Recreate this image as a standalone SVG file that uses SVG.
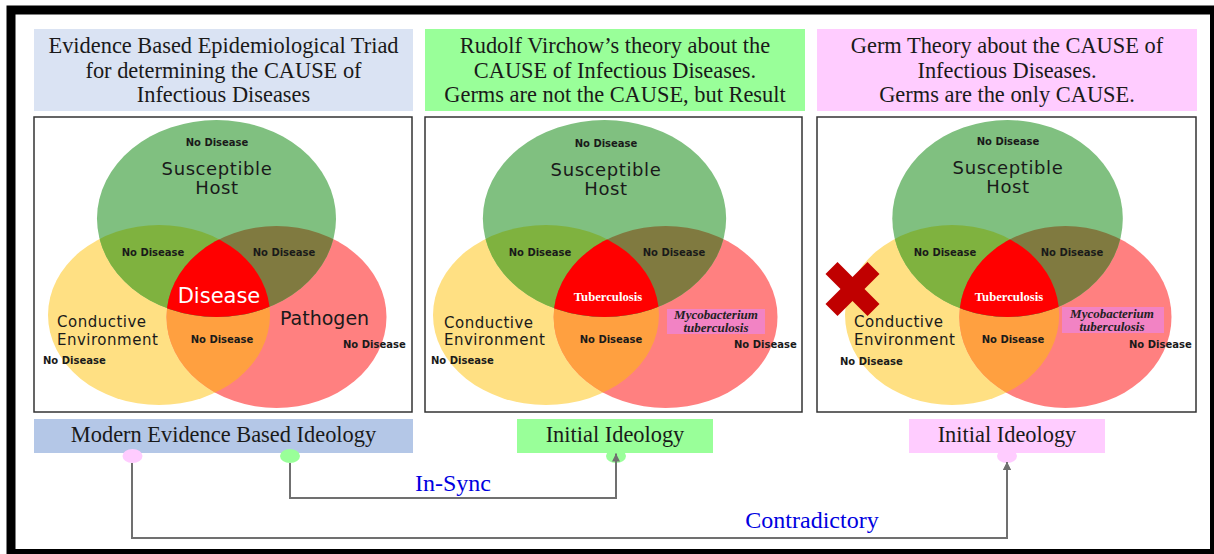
<svg xmlns="http://www.w3.org/2000/svg" xmlns:xlink="http://www.w3.org/1999/xlink" width="1214" height="554" viewBox="0 0 1214 554">
<style>
.ttl{font-family:"Liberation Serif",serif;font-size:22.4px;fill:#1a1a1a;text-anchor:middle}
.nd{font-family:"DejaVu Sans",sans-serif;font-weight:bold;font-size:10px;fill:#1a1a1a;text-anchor:middle}
.ndl{font-family:"DejaVu Sans",sans-serif;font-weight:bold;font-size:10px;fill:#1a1a1a}
.lab{font-family:"DejaVu Sans",sans-serif;font-size:19px;fill:#1a1a1a}
.sh{font-family:"DejaVu Sans",sans-serif;font-size:18px;letter-spacing:0.6px;fill:#1a1a1a;text-anchor:middle}
.env{font-family:"DejaVu Sans",sans-serif;font-size:15px;letter-spacing:0.5px;fill:#1a1a1a}
.tb{font-family:"Liberation Serif",serif;font-weight:bold;font-size:12.7px;fill:#ffffff;text-anchor:middle}
.my{font-family:"Liberation Serif",serif;font-weight:bold;font-style:italic;font-size:13px;fill:#222;text-anchor:middle}
.panel{fill:#ffffff;stroke:#333;stroke-width:1.5}
.conn{fill:none;stroke:#707070;stroke-width:2}
.clab{font-family:"Liberation Serif",serif;font-size:24px;fill:#0000e0;text-anchor:middle}
</style>
<defs>
<ellipse id="eG" cx="216.5" cy="218.5" rx="119.5" ry="98.5"/>
<ellipse id="eY" cx="159" cy="315" rx="111" ry="90"/>
<ellipse id="eR" cx="276.5" cy="317" rx="110" ry="91"/>
<clipPath id="cY"><ellipse cx="159" cy="315" rx="111" ry="90"/></clipPath>
<clipPath id="cR"><ellipse cx="276.5" cy="317" rx="110" ry="91"/></clipPath>
<g id="venn">
<use href="#eY" fill="#ffe083"/>
<use href="#eR" fill="#ff8080"/>
<use href="#eR" fill="#ffa040" clip-path="url(#cY)"/>
<use href="#eG" fill="#80c080"/>
<use href="#eG" fill="#7fb23f" clip-path="url(#cY)"/>
<use href="#eG" fill="#807a40" clip-path="url(#cR)"/>
<g clip-path="url(#cY)"><use href="#eG" fill="#ff0000" clip-path="url(#cR)"/></g>
</g>
<marker id="arr" viewBox="0 0 8 8" refX="8" refY="4" markerWidth="8" markerHeight="8" markerUnits="userSpaceOnUse" orient="auto">
<path d="M0,0 L8,4 L0,8 z" fill="#707070"/>
</marker>
</defs>

<rect x="0" y="0" width="1214" height="554" fill="#ffffff"/>
<rect x="11" y="10" width="1203.5" height="543.5" fill="none" stroke="#000" stroke-width="9"/>

<g id="title1">
<rect x="34" y="29" width="379" height="82" fill="#dae3f3"/>
<text class="ttl" x="223.5" y="53">Evidence Based Epidemiological Triad</text>
<text class="ttl" x="223.5" y="77.5">for determining the CAUSE of</text>
<text class="ttl" x="223.5" y="102">Infectious Diseases</text>
</g>
<g id="title2">
<rect x="425" y="29" width="380" height="82" fill="#99ff99"/>
<text class="ttl" x="615" y="53">Rudolf Virchow’s theory about the</text>
<text class="ttl" x="615" y="77.5">CAUSE of Infectious Diseases.</text>
<text class="ttl" x="615" y="102">Germs are not the CAUSE, but Result</text>
</g>
<g id="title3">
<rect x="817" y="29" width="380" height="82" fill="#ffccff"/>
<text class="ttl" x="1007" y="53">Germ Theory about the CAUSE of</text>
<text class="ttl" x="1007" y="77.5">Infectious Diseases.</text>
<text class="ttl" x="1007" y="102">Germs are the only CAUSE.</text>
</g>

<g id="panel1">
<rect class="panel" x="34" y="117" width="378" height="295"/>
<use href="#venn"/>
<text class="nd" x="217" y="146">No Disease</text>
<text class="sh" x="217" y="175">Susceptible</text>
<text class="sh" x="217" y="194">Host</text>
<text class="nd" x="153" y="255.5">No Disease</text>
<text class="nd" x="284" y="255.5">No Disease</text>
<text x="219" y="303" text-anchor="middle" style="font-family:'DejaVu Sans',sans-serif;font-size:21px;fill:#ffffff">Disease</text>
<text class="env" x="57" y="327">Conductive</text>
<text class="env" x="57" y="344.5">Environment</text>
<text class="lab" x="280" y="324.5">Pathogen</text>
<text class="nd" x="222" y="342.5">No Disease</text>
<text class="ndl" x="43" y="363.5">No Disease</text>
<text class="ndl" x="343" y="347.5">No Disease</text>
</g>

<g id="panel2">
<rect class="panel" x="425" y="117" width="377" height="295"/>
<use href="#venn" transform="matrix(1.0178,0,0,1,384.15,0)"/>
<text class="nd" x="606" y="146.5">No Disease</text>
<text class="sh" x="606" y="175.5">Susceptible</text>
<text class="sh" x="606" y="194.5">Host</text>
<text class="nd" x="540" y="255.5">No Disease</text>
<text class="nd" x="674" y="255.5">No Disease</text>
<text class="tb" x="608" y="301">Tuberculosis</text>
<rect x="667" y="309" width="98" height="25" fill="#f283c4"/>
<text class="my" x="716" y="319">Mycobacterium</text>
<text class="my" x="716" y="332">tuberculosis</text>
<text class="env" x="444" y="327.5">Conductive</text>
<text class="env" x="444" y="345">Environment</text>
<text class="nd" x="611" y="342.5">No Disease</text>
<text class="ndl" x="431" y="363.5">No Disease</text>
<text class="ndl" x="734" y="347.5">No Disease</text>
</g>

<g id="panel3">
<rect class="panel" x="817" y="117" width="379" height="295"/>
<use href="#venn" transform="matrix(0.9645,0,0,1,798.74,0)"/>
<text class="nd" x="1008" y="144.5">No Disease</text>
<text class="sh" x="1008" y="174">Susceptible</text>
<text class="sh" x="1008" y="193">Host</text>
<text class="nd" x="945" y="255.5">No Disease</text>
<text class="nd" x="1072" y="255.5">No Disease</text>
<text class="tb" x="1009" y="301">Tuberculosis</text>
<rect x="1062" y="307" width="102" height="26" fill="#f283c4"/>
<text class="my" x="1112" y="318">Mycobacterium</text>
<text class="my" x="1112" y="331">tuberculosis</text>
<text class="env" x="854" y="327">Conductive</text>
<text class="env" x="854" y="344.5">Environment</text>
<text class="nd" x="1013" y="342.5">No Disease</text>
<text class="ndl" x="840" y="364.5">No Disease</text>
<text class="ndl" x="1129" y="347.5">No Disease</text>
<g id="cross" stroke="#c00000" stroke-width="17" stroke-linecap="butt">
<line x1="831.5" y1="268" x2="873.5" y2="310"/>
<line x1="873.5" y1="268" x2="831.5" y2="310"/>
</g>
</g>

<g id="label1">
<rect x="34" y="419" width="379" height="34" fill="#b4c7e7"/>
<text class="ttl" x="223.5" y="442">Modern Evidence Based Ideology</text>
</g>
<g id="label2">
<rect x="517" y="419" width="196" height="34" fill="#99ff99"/>
<text class="ttl" x="615" y="442">Initial Ideology</text>
</g>
<g id="label3">
<rect x="909" y="419" width="196" height="34" fill="#ffccff"/>
<text class="ttl" x="1007" y="442">Initial Ideology</text>
</g>

<g id="connectors">
<path class="conn" d="M290,463 V498 H616 V453.5" marker-end="url(#arr)"/>
<path class="conn" d="M132,463 V538 H1007 V462" marker-end="url(#arr)"/>
<ellipse cx="132.5" cy="456" rx="10" ry="7" fill="#ffccff"/>
<ellipse cx="290" cy="456" rx="10" ry="7" fill="#99ff99"/>
<ellipse cx="616" cy="456" rx="10" ry="7" fill="#99ff99"/>
<ellipse cx="1007" cy="456" rx="10" ry="7" fill="#ffccff"/>
<path class="conn" d="M616,470 V453.5" marker-end="url(#arr)"/>
<path class="conn" d="M1007,475 V462" marker-end="url(#arr)"/>
<text class="clab" x="453" y="491">In-Sync</text>
<text class="clab" x="812" y="528">Contradictory</text>
</g>
</svg>
